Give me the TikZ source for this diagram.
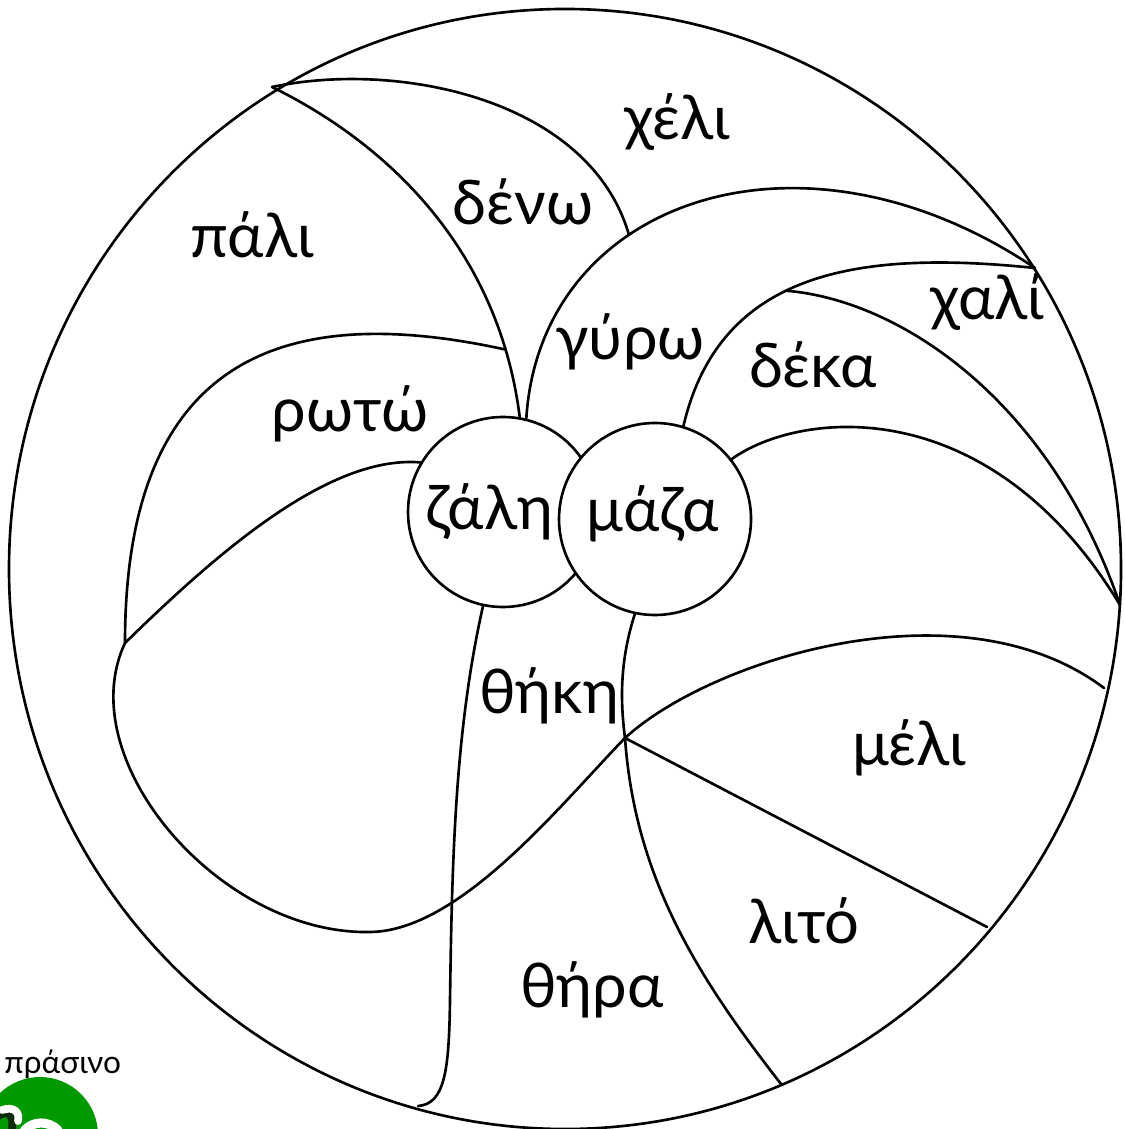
\documentclass[tikz,border=0pt]{standalone}
\usepackage{fontspec}
\setmainfont{Lato}
\usepackage{tikz}
\definecolor{SheetGreen}{HTML}{009900}
\definecolor{SheetShade}{HTML}{0B2A0B}
\tikzset{
  word/.style={anchor=base,inner sep=0pt,font=\fontsize{17.5}{20}\selectfont},
  hub/.style={draw,circle,fill=white,inner sep=0pt,minimum size=19mm}
}

\begin{document}
\begin{tikzpicture}[x=0.1mm,y=-0.1mm,line width=0.75pt,line join=round,line cap=round]
\path[use as bounding box] (0,0) rectangle (1124,1129);
\clip (0,0) rectangle (1124,1129);
\draw (565,569) ellipse [x radius=556, y radius=560];
\coordinate (apex) at (272,87);
\coordinate (rimNE) at (1035,268);
\coordinate (rimE) at (1120,605);
\coordinate (rimW) at (125,643);
\coordinate (knot) at (625,738);
\node[hub] (zali) at (503,512) {};
\node[hub,minimum size=19.2mm] (maza) at (655,519) {};
\draw (apex) .. controls (400,150) and (500,260) .. coordinate[pos=0.85] (rotoend) (zali.80);
\draw (zali.76) .. controls (540,200) and (800,110) .. coordinate[pos=0.37] (denoend) (rimNE);
\draw (apex) .. controls (400,60) and (590,100) .. (denoend);
\draw (rimNE) .. controls (860,250) and (720,270) .. coordinate[pos=0.56] (fork) (maza.73);
\draw (fork) .. controls (900,300) and (1050,400) .. (rimE);
\draw (maza.38) .. controls (800,410) and (990,390) .. (rimE);
\draw (rimW) .. controls (125,360) and (280,300) .. (rotoend);
\draw (rimW) .. controls (220,550) and (330,455) .. (zali.149);
\draw (rimW) .. controls (70,760) and (220,935) .. (370,932)
  .. controls (460,931) and (560,805) .. (knot)
  .. controls (710,660) and (960,580) .. (1104,688);
\draw (zali.-102) .. controls (455,730) and (452,860) .. (450,1000)
  .. controls (449,1070) and (445,1104) .. (418,1106);
\draw (maza.-102) .. controls (620,660) and (620,700) .. (knot)
  .. controls (635,880) and (700,980) .. (781,1084);
\draw (knot) -- (987,927);
\node[word] (cheli) at (677,140) {χέλι};
\node[word] (pali) at (252,258) {πάλι};
\node[word] (deno) at (523,225) {δένω};
\node[word] (gyro) at (630,360) {γύρω};
\node[word] (chali) at (987,320) {χαλί};
\node[word] (deka) at (813,388) {δέκα};
\node[word] (roto) at (350,432) {ρωτώ};
\node[word] (tzali) at (489,530) {ζάλη};
\node[word] (tmaza) at (653,532) {μάζα};
\node[word] (thiki) at (549,713) {θήκη};
\node[word] (meli) at (909,765) {μέλι};
\node[word] (lito) at (804,943) {λιτό};
\node[word] (thira) at (592,1007) {θήρα};
% colour key
\node[anchor=base west,inner sep=0pt,font=\fontsize{9}{11}\selectfont] (green) at (3,1073) {πράσινο};
\fill[SheetGreen] (40,1135) circle [radius=58];
\draw[SheetShade,line width=2.2pt] (-2,1116) .. controls (8,1110) and (14,1114) .. (12,1129);
\draw[white,line width=2.2pt] (2,1110) .. controls (14,1106) and (20,1112) .. (18,1121);
\draw[white,line width=2.6pt] (24,1131) .. controls (32,1121) and (48,1120) .. (58,1130);
\end{tikzpicture}
\end{document}
